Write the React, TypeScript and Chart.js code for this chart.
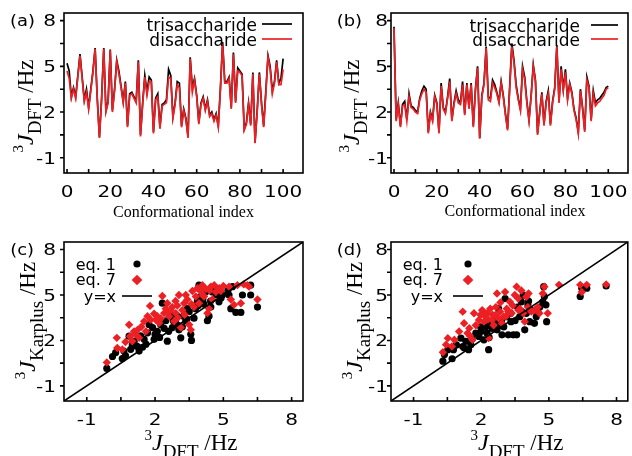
import React, { useEffect, useRef } from 'react';
import { Chart, registerables } from 'chart.js';

Chart.register(...registerables);

// ---------------- data ----------------
// panel (a): 3J_DFT per conformational index (0..100)
const TRI_A = [
  5.2, 4.7, 3.0, 3.6, 3.0, 4.4, 5.8, 4.3, 2.8, 3.5,
  2.3, 3.5, 4.7, 6.2, 2.9, 0.35, 2.9, 6.2, 2.1, 2.7,
  6.1, 2.1, 3.5, 5.4, 4.7, 3.7, 2.7, 4.0, 1.1, 3.2,
  3.3, 3.0, 2.7, 5.4, 0.5, 2.6, 4.4, 3.3, 4.3, 4.1,
  0.7, 2.9, 3.2, 1.0, 2.5, 2.6, 2.8, 4.8, 4.4, 1.7,
  2.6, 4.0, 3.9, 1.1, 2.2, 1.6, 0.4, 5.6, 3.6, 4.2,
  3.1, 1.3, 2.6, 3.0, 2.2, 2.8, 1.8, 2.0, 1.5, 1.9,
  1.1, 3.6, 6.6, 4.0, 4.0, 4.3, 2.3, 5.9, 2.7, 4.9,
  4.7, 4.5, 0.9, 1.3, 2.6, 1.2, 4.6, 0.0, 2.1, 4.6,
  2.6, 1.1, 3.4, 5.7, 5.0, 3.4, 4.0, 5.4, 3.9, 4.2,
  5.5,
];
const DI_A = [
  4.7, 4.2, 2.9, 3.5, 2.9, 4.3, 5.7, 4.2, 2.7, 3.3,
  2.2, 3.4, 4.6, 6.15, 2.8, 0.3, 2.8, 6.15, 2.0, 2.6,
  6.05, 2.0, 3.4, 5.3, 4.5, 3.6, 2.6, 3.9, 1.0, 3.1,
  3.2, 2.9, 2.6, 5.3, 0.4, 2.5, 4.3, 3.1, 4.0, 4.0,
  0.6, 2.8, 3.0, 0.9, 2.4, 2.5, 2.6, 4.3, 4.2, 1.6,
  2.5, 3.8, 3.6, 1.0, 2.1, 1.5, 0.3, 5.5, 3.3, 4.1,
  3.0, 1.2, 2.5, 2.9, 2.1, 2.7, 1.7, 1.9, 1.4, 1.8,
  1.0, 3.5, 6.5, 3.9, 3.9, 4.2, 2.2, 5.8, 2.6, 4.7,
  4.6, 4.4, 0.8, 1.2, 2.5, 1.1, 4.5, -0.05, 2.0, 4.5,
  2.5, 1.0, 3.2, 5.6, 4.8, 3.2, 3.9, 5.3, 3.8, 3.8,
  4.8,
];
// panel (b)
const TRI_B = [
  7.6, 1.5, 2.6, 1.1, 2.5, 2.7, 1.5, 3.2, 2.4, 2.3,
  2.1, 2.0, 2.9, 3.4, 3.7, 3.5, 0.7, 2.0, 1.5, 3.1,
  2.6, 0.7, 3.9, 2.3, 2.0, 3.0, 4.2, 1.5, 2.6, 3.4,
  2.8, 2.6, 4.0, 1.9, 3.9, 2.3, 3.9, 1.1, 3.5, 5.0,
  0.3, 3.1, 3.9, 6.3, 3.0, 2.9, 4.1, 3.8, 3.3, 2.7,
  4.0, 3.1, 1.9, 0.9, 3.7, 6.5, 5.4, 3.8, 2.9, 2.2,
  5.0, 4.3, 2.7, 1.5, 3.1, 5.1, 4.1, 0.6, 2.0, 3.3,
  1.2, 2.7, 3.4, 1.2, 2.7, 3.6, 6.4, 2.7, 5.0, 3.5,
  4.8, 2.9, 3.9, 3.3, 2.2, 1.6, 0.7, 3.5, 2.3, 0.8,
  4.3, 3.7, 1.5, 3.4, 2.6, 2.8, 2.9, 3.1, 3.3, 3.6,
  3.7,
];
const DI_B = [
  7.5, 1.4, 2.5, 1.0, 2.4, 2.5, 1.4, 3.0, 2.3, 2.2,
  2.0, 1.9, 2.8, 3.2, 3.5, 3.3, 0.6, 1.9, 1.4, 3.0,
  2.5, 0.6, 3.7, 2.2, 1.9, 2.9, 4.0, 1.4, 2.5, 3.2,
  2.6, 2.5, 3.8, 1.8, 3.8, 2.2, 3.8, 1.0, 3.4, 4.9,
  0.25, 3.0, 3.8, 6.2, 2.8, 2.7, 3.9, 3.6, 3.2, 2.6,
  3.9, 3.0, 1.8, 0.8, 3.5, 6.3, 5.2, 3.6, 2.8, 2.1,
  4.8, 4.1, 2.6, 1.4, 3.0, 5.0, 4.0, 0.5, 1.9, 3.2,
  1.1, 2.6, 3.2, 1.1, 2.6, 3.5, 6.3, 2.6, 4.8, 3.4,
  4.6, 2.8, 3.8, 3.2, 2.1, 1.5, 0.6, 3.4, 2.2, 0.7,
  4.1, 3.6, 1.4, 3.2, 2.4, 2.6, 2.7, 2.9, 3.1, 3.5,
  3.6,
];
// panel (c): [3J_DFT, 3J_Karplus]
const EQ1_C: [number, number][] = [
  [-0.12, 0.15], [0.13, 0.94], [0.27, 1.2], [0.56, 0.8], [0.63, 1.3], [0.86, 2.28], [0.93, 1.41],
  [1.08, 1.95], [1.2, 1.62], [1.3, 1.3], [1.37, 2.3], [1.52, 2.07], [1.67, 2.5], [1.74, 3.04],
  [1.89, 2.85], [1.96, 2.07], [2.1, 2.6], [2.25, 3.04], [2.32, 4.46], [2.4, 2.8], [2.47, 3.3],
  [2.54, 1.95], [2.69, 3.7], [2.76, 2.85], [2.9, 3.2], [2.98, 3.6], [3.05, 2.7], [3.13, 2.17],
  [3.25, 3.6], [3.35, 3.3], [3.42, 4.1], [3.57, 2.4], [3.6, 2.0], [3.71, 3.47], [3.78, 4.1],
  [3.86, 4.6], [3.93, 5.65], [4.0, 4.9], [4.15, 4.4], [4.22, 5.2], [4.3, 3.3], [4.37, 3.6],
  [4.44, 4.6], [4.52, 5.2], [4.59, 5.5], [4.74, 5.4], [4.81, 4.55], [4.96, 5.0], [5.25, 5.0],
  [5.33, 4.1], [5.4, 5.55], [5.55, 3.85], [5.77, 3.85], [5.84, 5.0], [6.2, 5.65], [6.2, 5.0],
  [6.5, 4.2], [1.0, 1.7], [1.6, 1.75], [2.0, 2.4], [2.6, 2.6], [2.8, 3.3], [3.0, 3.0], [3.2, 2.9],
  [3.5, 3.9], [3.9, 4.3], [4.1, 4.7], [4.7, 5.0], [5.2, 5.3], [2.2, 2.2], [1.45, 1.55], [0.7, 1.0],
  [3.4, 3.4], [4.45, 4.2], [4.9, 4.8],
];
const EQ7_C: [number, number][] = [
  [-0.12, 0.55], [0.32, 2.17], [0.34, 1.5], [0.56, 1.4], [0.86, 3.04], [0.9, 2.28], [1.0, 1.95],
  [1.08, 2.6], [1.23, 2.7], [1.3, 2.17], [1.52, 3.26], [1.6, 2.6], [1.67, 3.6], [1.78, 4.28],
  [1.81, 3.37], [1.96, 3.76], [2.03, 3.37], [2.18, 3.15], [2.32, 4.93], [2.4, 3.8], [2.47, 4.1],
  [2.54, 4.46], [2.62, 3.6], [2.69, 4.0], [2.76, 4.2], [2.84, 3.26], [2.91, 3.8], [2.98, 4.3],
  [3.05, 5.0], [3.13, 2.85], [3.2, 4.0], [3.28, 4.46], [3.35, 5.0], [3.42, 4.7], [3.5, 3.04],
  [3.57, 2.7], [3.64, 5.26], [3.71, 4.2], [3.79, 4.9], [3.86, 5.45], [3.93, 4.46], [4.0, 5.26],
  [4.08, 5.65], [4.15, 4.9], [4.23, 5.4], [4.3, 3.8], [4.37, 4.1], [4.45, 5.55], [4.52, 4.7],
  [4.6, 5.65], [4.67, 5.2], [4.82, 5.45], [4.89, 5.26], [5.25, 5.55], [5.33, 4.7], [5.47, 4.35],
  [5.62, 5.65], [5.77, 4.46], [6.06, 5.65], [6.13, 5.55], [6.5, 4.7], [1.4, 2.9], [2.1, 3.6],
  [2.6, 3.9], [2.9, 4.6], [3.3, 3.7], [3.6, 4.4], [4.1, 5.0], [4.4, 5.3], [2.25, 3.45], [1.15, 2.4],
  [0.7, 1.9], [3.0, 3.5], [5.0, 5.6], [5.9, 5.7],
];
// panel (d)
const EQ1_D: [number, number][] = [
  [0.3, 0.63], [0.37, 1.07], [0.52, 1.39], [0.71, 0.79], [0.77, 1.39], [1.1, 2.15], [1.18, 1.6],
  [1.32, 1.94], [1.44, 1.39], [1.54, 1.72], [1.76, 2.48], [1.9, 2.26], [1.97, 2.9], [2.12, 2.04],
  [2.26, 2.48], [2.33, 1.39], [2.4, 3.13], [2.48, 2.8], [2.63, 3.35], [2.7, 2.7], [2.77, 4.1],
  [2.84, 3.0], [2.92, 2.37], [3.06, 4.77], [3.13, 3.57], [3.2, 2.37], [3.32, 3.24], [3.42, 2.37],
  [3.57, 2.37], [3.61, 4.2], [3.71, 3.57], [3.78, 4.55], [3.86, 4.99], [3.93, 2.7], [4.0, 3.79],
  [4.07, 4.35], [4.15, 3.24], [4.22, 3.98], [4.36, 3.13], [4.44, 3.57], [4.51, 3.9], [4.73, 4.55],
  [4.8, 4.9], [4.87, 4.35], [4.9, 3.24], [4.77, 5.55], [6.39, 4.9], [6.68, 5.45], [6.46, 5.45],
  [7.54, 5.6], [0.9, 1.7], [1.6, 2.1], [2.0, 2.6], [2.2, 2.9], [2.55, 3.0], [2.9, 3.3], [3.0, 2.9],
  [3.3, 3.8], [3.5, 3.3], [3.8, 3.9], [4.1, 4.6], [4.6, 4.2], [1.25, 1.5], [2.35, 2.2],
];
const EQ7_D: [number, number][] = [
  [0.3, 1.22], [0.44, 1.72], [0.52, 2.15], [0.81, 2.04], [1.02, 2.59], [1.18, 3.9], [1.24, 3.13],
  [1.39, 2.48], [1.47, 2.8], [1.61, 2.04], [1.68, 3.79], [1.76, 3.0], [1.9, 3.35], [1.97, 3.68],
  [2.04, 4.0], [2.12, 3.24], [2.19, 3.57], [2.26, 3.79], [2.33, 2.15], [2.4, 4.1], [2.48, 3.35],
  [2.55, 3.0], [2.63, 3.68], [2.7, 5.1], [2.77, 3.46], [2.84, 3.9], [2.92, 3.13], [2.99, 3.57],
  [3.06, 5.2], [3.13, 4.1], [3.2, 3.9], [3.27, 4.55], [3.35, 3.79], [3.49, 5.0], [3.57, 5.55],
  [3.64, 4.77], [3.71, 4.1], [3.78, 5.3], [3.86, 3.79], [3.93, 3.24], [4.0, 4.88], [4.07, 4.2],
  [4.22, 3.9], [4.36, 4.0], [4.51, 4.2], [4.58, 3.79], [4.73, 5.1], [4.8, 5.55], [4.95, 3.79],
  [5.45, 5.67], [6.39, 5.67], [6.46, 5.2], [6.68, 5.67], [7.54, 5.7], [2.1, 3.9], [2.3, 3.4],
  [2.5, 3.7], [2.65, 4.2], [2.85, 4.5], [3.1, 3.6], [3.4, 4.3], [3.65, 4.0], [4.1, 5.1], [1.5, 2.3],
  [0.7, 1.6],
];
const DIAGONAL = [-2, 8.5];

// ticks
const Y_RANGE = [-2, 8.5];
const Y_TICKS = [-1, 0.5, 2, 3.5, 5, 6.5, 8];
const Y_LABELS = [-1, 2, 5, 8];
const INDEX_RANGE = [-1.4, 109.2];
const INDEX_TICKS = [0, 10, 20, 30, 40, 50, 60, 70, 80, 90, 100];
const INDEX_LABELS = [0, 20, 40, 60, 80, 100];
const J_RANGE = [-2, 8.5];
const J_TICKS = [-1, 0.5, 2, 3.5, 5, 6.5, 8];
const J_LABELS = [-1, 2, 5, 8];

// ---------------- styles ----------------
const W = 316;
const H = 228;
const SANS = '"DejaVu Sans", "Noto Sans", sans-serif';
const SERIF = '"Liberation Serif", "DejaVu Serif", serif';
const RED = 'rgb(236,32,36)';
const BLACK = '#000000';
const TICK_FONT = `16px ${SANS}`;
const TICK_SX = 1.25;
const LABEL_SX = 1.12;

type Part = { t: string; font: string; dy: number };
const rich = (sub: string): Part[] => [
  { t: '3', font: `15px ${SERIF}`, dy: -10 },
  { t: 'J', font: `italic 24px ${SERIF}`, dy: 0 },
  { t: sub, font: `19px ${SERIF}`, dy: 8 },
  { t: ' /Hz', font: `23px ${SERIF}`, dy: 0 },
];
const TITLE_DFT = rich('DFT');
const TITLE_KARPLUS = rich('Karplus');

type Cfg = any;

const PANELS: Cfg[] = [
  {
    kind: 'line', left: 0, top: 0,
    plot: { l: 64, r: 303, t: 13, b: 173 },
    xRange: INDEX_RANGE, xTicks: INDEX_TICKS, xLabels: INDEX_LABELS,
    yTickRight: 56, label: '(a)', labelRight: 35,
    xTitle: { text: 'Conformational index', cx: 183.5, y: 217 },
    yTitle: { parts: TITLE_DFT, bx: 33, cy: 106 },
    legend: { textRight: 257, sample: [262, 292], base: [30.5, 45.5], mid: [24, 39], font: `17px ${SANS}` },
    series: [
      { label: 'trisaccharide', values: TRI_A, color: BLACK },
      { label: 'disaccharide', values: DI_A, color: RED },
    ],
  },
  {
    kind: 'line', left: 316, top: 0,
    plot: { l: 75, r: 312, t: 13, b: 173 },
    xRange: INDEX_RANGE, xTicks: INDEX_TICKS, xLabels: INDEX_LABELS,
    yTickRight: 72, label: '(b)', labelRight: 46,
    xTitle: { text: 'Conformational index', cx: 199, y: 216 },
    yTitle: { parts: TITLE_DFT, bx: 43, cy: 106 },
    legend: { textRight: 264, sample: [275, 302], base: [31.5, 46], mid: [25, 39], font: `17px ${SANS}` },
    series: [
      { label: 'trisaccharide', values: TRI_B, color: BLACK },
      { label: 'disaccharide', values: DI_B, color: RED },
    ],
  },
  {
    kind: 'scatter', left: 0, top: 228,
    plot: { l: 64, r: 303, t: 14, b: 173 },
    xRange: J_RANGE, xTicks: J_TICKS, xLabels: J_LABELS,
    yTickRight: 56, label: '(c)', labelRight: 34,
    xRich: { parts: TITLE_DFT, cx: 191, y: 222 },
    yTitle: { parts: TITLE_KARPLUS, bx: 35, cy: 92.5 },
    legend: { textRight: 116, sample: [122, 152], point: 137, base: [41.7, 56.7, 74], mid: [36, 52, 68], font: `16px ${SANS}` },
    points: [
      { label: 'eq. 1', values: EQ1_C, color: BLACK, style: 'circle', r: 3.6 },
      { label: 'eq. 7', values: EQ7_C, color: RED, style: 'rectRot', r: 4.2 },
    ],
  },
  {
    kind: 'scatter', left: 316, top: 228,
    plot: { l: 75, r: 312, t: 14, b: 173 },
    xRange: J_RANGE, xTicks: J_TICKS, xLabels: J_LABELS,
    yTickRight: 72, label: '(d)', labelRight: 46,
    xRich: { parts: TITLE_DFT, cx: 201, y: 222 },
    yTitle: { parts: TITLE_KARPLUS, bx: 46, cy: 92.5 },
    legend: { textRight: 127, sample: [137, 167], point: 152, base: [41.7, 56.7, 74], mid: [36, 52, 68], font: `16px ${SANS}` },
    points: [
      { label: 'eq. 1', values: EQ1_D, color: BLACK, style: 'circle', r: 3.6 },
      { label: 'eq. 7', values: EQ7_D, color: RED, style: 'rectRot', r: 4.2 },
    ],
  },
];

// ---------------- drawing helpers ----------------
function stretched(ctx: CanvasRenderingContext2D, text: string, x: number, y: number, align: CanvasTextAlign, font: string, sx: number) {
  ctx.save();
  ctx.font = font;
  ctx.textAlign = align;
  ctx.textBaseline = 'alphabetic';
  ctx.translate(x, y);
  ctx.scale(sx, 1);
  ctx.fillText(text, 0, 0);
  ctx.restore();
}

function drawRich(ctx: CanvasRenderingContext2D, parts: Part[], cx: number, base: number) {
  let total = 0;
  const ws = parts.map((p) => {
    ctx.font = p.font;
    const w = ctx.measureText(p.t).width;
    total += w;
    return w;
  });
  let x = cx - total / 2;
  ctx.textAlign = 'left';
  ctx.textBaseline = 'alphabetic';
  parts.forEach((p, i) => {
    ctx.font = p.font;
    ctx.fillText(p.t, x, base + p.dy);
    x += ws[i];
  });
}

function drawMarker(ctx: CanvasRenderingContext2D, style: string, x: number, y: number, r: number, color: string) {
  ctx.fillStyle = color;
  ctx.beginPath();
  if (style === 'rectRot') {
    const d = r * Math.SQRT2 * 0.9;
    ctx.moveTo(x, y - d);
    ctx.lineTo(x + d, y);
    ctx.lineTo(x, y + d);
    ctx.lineTo(x - d, y);
    ctx.closePath();
  } else {
    ctx.arc(x, y, r, 0, Math.PI * 2);
  }
  ctx.fill();
}

function decor(cfg: Cfg) {
  return {
    id: 'decor',
    afterDraw(chart: any) {
      const ctx: CanvasRenderingContext2D = chart.ctx;
      const { left, right, top, bottom } = chart.chartArea;
      const xs = chart.scales.x;
      const ys = chart.scales.y;
      ctx.save();
      // frame + ticks
      ctx.strokeStyle = BLACK;
      ctx.lineWidth = 1.6;
      ctx.strokeRect(left, top, right - left, bottom - top);
      ctx.beginPath();
      Y_TICKS.forEach((v) => {
        const py = ys.getPixelForValue(v);
        ctx.moveTo(left - 4, py);
        ctx.lineTo(left, py);
      });
      cfg.xTicks.forEach((v: number) => {
        const px = xs.getPixelForValue(v);
        ctx.moveTo(px, bottom);
        ctx.lineTo(px, bottom - 4);
      });
      ctx.stroke();

      ctx.fillStyle = BLACK;
      // tick labels
      Y_LABELS.forEach((v) => {
        stretched(ctx, String(v), cfg.yTickRight, ys.getPixelForValue(v) + 5.8, 'right', TICK_FONT, TICK_SX);
      });
      cfg.xLabels.forEach((v: number) => {
        stretched(ctx, String(v), xs.getPixelForValue(v), 197, 'center', TICK_FONT, TICK_SX);
      });
      // panel label
      stretched(ctx, cfg.label, cfg.labelRight, ys.getPixelForValue(8) + 5.8, 'right', TICK_FONT, LABEL_SX);

      // x title
      if (cfg.xTitle) {
        ctx.font = `16px ${SERIF}`;
        ctx.textAlign = 'center';
        ctx.textBaseline = 'alphabetic';
        ctx.fillText(cfg.xTitle.text, cfg.xTitle.cx, cfg.xTitle.y);
      }
      if (cfg.xRich) drawRich(ctx, cfg.xRich.parts, cfg.xRich.cx, cfg.xRich.y);
      // y title (rotated)
      ctx.save();
      ctx.translate(cfg.yTitle.bx, cfg.yTitle.cy);
      ctx.rotate(-Math.PI / 2);
      drawRich(ctx, cfg.yTitle.parts, 0, 0);
      ctx.restore();

      // legend
      const lg = cfg.legend;
      chart.data.datasets.forEach((ds: any, i: number) => {
        ctx.fillStyle = BLACK;
        ctx.font = lg.font;
        ctx.textAlign = 'right';
        ctx.textBaseline = 'alphabetic';
        ctx.fillText(ds.label, lg.textRight, lg.base[i]);
        if (ds.showLine) {
          ctx.strokeStyle = ds.borderColor;
          ctx.lineWidth = ds.borderWidth;
          ctx.beginPath();
          ctx.moveTo(lg.sample[0], lg.mid[i]);
          ctx.lineTo(lg.sample[1], lg.mid[i]);
          ctx.stroke();
        } else {
          drawMarker(ctx, ds.pointStyle, lg.point, lg.mid[i], ds.pointRadius, ds.backgroundColor);
        }
      });
      ctx.restore();
    },
  };
}

function buildConfig(cfg: Cfg): any {
  let datasets: any[];
  if (cfg.kind === 'line') {
    datasets = cfg.series.map((s: any, i: number) => ({
      label: s.label,
      data: s.values.map((y: number, x: number) => ({ x, y })),
      showLine: true,
      borderColor: s.color,
      backgroundColor: s.color,
      borderWidth: 1.7,
      pointRadius: 0,
      tension: 0,
      order: 2 - i,
    }));
  } else {
    datasets = cfg.points.map((s: any, i: number) => ({
      label: s.label,
      data: s.values.map(([x, y]: [number, number]) => ({ x, y })),
      showLine: false,
      pointStyle: s.style,
      pointRadius: s.r,
      borderWidth: 0,
      backgroundColor: s.color,
      borderColor: s.color,
      order: 3 - i,
    }));
    datasets.push({
      label: 'y=x',
      data: DIAGONAL.map((v) => ({ x: v, y: v })),
      showLine: true,
      borderColor: BLACK,
      borderWidth: 1.6,
      pointRadius: 0,
      order: 1,
    });
  }
  const p = cfg.plot;
  return {
    type: 'scatter',
    data: { datasets },
    options: {
      responsive: false,
      maintainAspectRatio: false,
      animation: false,
      devicePixelRatio: 1,
      events: [],
      layout: { padding: { left: 0, top: p.t, right: W - p.r, bottom: 0 } },
      plugins: { legend: { display: false }, tooltip: { enabled: false }, title: { display: false } },
      scales: {
        x: {
          type: 'linear', position: 'bottom',
          min: cfg.xRange[0], max: cfg.xRange[1],
          ticks: { display: false },
          grid: { display: false },
          border: { display: false },
          afterFit: (s: any) => { s.height = H - p.b; },
        },
        y: {
          type: 'linear', position: 'left',
          min: Y_RANGE[0], max: Y_RANGE[1],
          ticks: { display: false },
          grid: { display: false },
          border: { display: false },
          afterFit: (s: any) => { s.width = p.l; },
        },
      },
    },
    plugins: [decor(cfg)],
  };
}

function Panel({ cfg }: { cfg: Cfg }) {
  const ref = useRef<HTMLCanvasElement>(null);
  useEffect(() => {
    const chart = new Chart(ref.current as HTMLCanvasElement, buildConfig(cfg));
    return () => chart.destroy();
  }, [cfg]);
  return (
    <div style={{ position: 'absolute', left: cfg.left, top: cfg.top, width: W, height: H }}>
      <canvas ref={ref} width={W} height={H} style={{ width: W, height: H, display: 'block' }} />
    </div>
  );
}

export default function App() {
  return (
    <div style={{ position: 'fixed', left: 0, top: 0, width: 632, height: 456, background: '#ffffff', overflow: 'hidden' }}>
      {PANELS.map((cfg, i) => (
        <Panel key={i} cfg={cfg} />
      ))}
    </div>
  );
}
